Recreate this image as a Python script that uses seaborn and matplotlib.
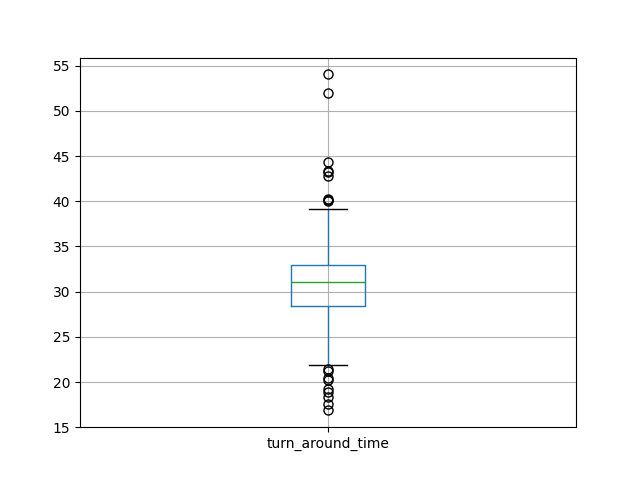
import numpy as np
import pandas as pd
import matplotlib
matplotlib.use('Agg')
import matplotlib.pyplot as plt
import seaborn as sns

# turn around times (sorted)
low_outliers = [16.9, 17.6, 18.3, 18.9, 19.2, 20.2, 20.4, 21.2, 21.45]
core = [21.9, 28.4, 28.6, 28.9, 29.2, 29.5, 29.8, 30.1, 30.4, 30.7, 30.9,
        31.1, 31.3, 31.5, 31.7, 31.9, 32.1, 32.3, 32.5, 32.7, 32.9, 33.0, 39.2]
high_outliers = [40.0, 40.1, 40.3, 42.8, 43.2, 43.4, 44.3, 52.0, 54.1]

df = pd.DataFrame({'turn_around_time': low_outliers + core + high_outliers})

fig, ax = plt.subplots(figsize=(6.4, 4.8), dpi=100)
sns.boxplot(data=df, ax=ax, width=0.15, fill=False, whis=1.5,
            boxprops=dict(color='C0', linewidth=1),
            whiskerprops=dict(color='C0', linewidth=1),
            medianprops=dict(color='C2', linewidth=1),
            capprops=dict(color='k', linewidth=1),
            flierprops=dict(marker='o', markerfacecolor='none',
                            markeredgecolor='k', markersize=6.5))
ax.set_xlim(-0.5, 0.5)
ax.set_ylim(15, 55.9)
ax.grid(True)
ax.set_axisbelow(True)
fig.savefig('out.png')
